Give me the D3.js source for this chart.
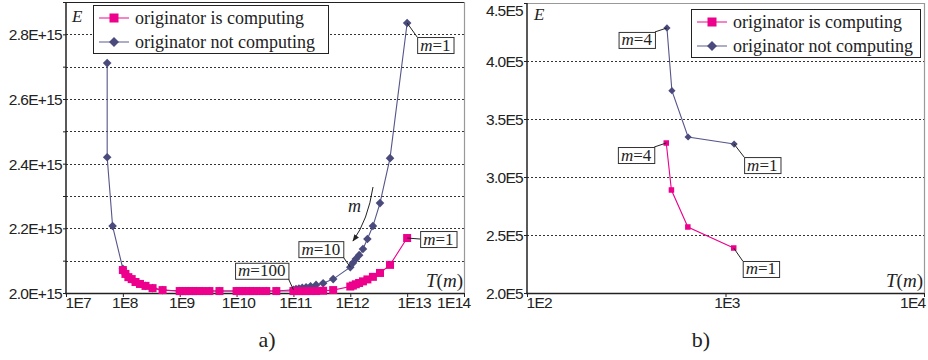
<!DOCTYPE html>
<html><head><meta charset="utf-8">
<script src="https://cdn.jsdelivr.net/npm/d3@7"></script>
<style>
body{margin:0;background:#fff}
svg{display:block}
.ax text{font-family:"Liberation Sans",Arial,sans-serif;font-size:15.5px;letter-spacing:-0.7px;fill:#222}
</style></head><body>
<svg id="c" width="928" height="360"></svg>
<script>
// ---------- data ----------
const seriesNames = ["originator is computing", "originator not computing"];
const panelLabels = ["a)", "b)"];

// panel a
const leftXTicks = [1e7, 1e8, 1e9, 1e10, 1e11, 1e12, 1e13, 1e14];
const leftXLabels = ["1E7", "1E8", "1E9", "1E10", "1E11", "1E12", "1E13", "1E14"];
const leftYTicks = [2.0e15, 2.1e15, 2.2e15, 2.3e15, 2.4e15, 2.5e15, 2.6e15, 2.7e15, 2.8e15, 2.9e15];
const leftYLabels = ["2.0E+15", "", "2.2E+15", "", "2.4E+15", "", "2.6E+15", "", "2.8E+15", ""];
const leftComputingT = [
  1e13, 5e12, 3.33e12, 2.5e12, 2e12, 1.67e12, 1.43e12, 1.25e12, 1.11e12,
  1e12, 5e11, 3.33e11, 2.5e11, 2e11, 1.67e11, 1.43e11, 1.25e11, 1.11e11,
  1e11, 5e10, 3.33e10, 2.5e10, 2e10, 1.67e10, 1.43e10, 1.25e10, 1.11e10,
  1e10, 5e9, 3.33e9, 2.5e9, 2e9, 1.67e9, 1.43e9, 1.25e9, 1.11e9,
  1e9, 5e8, 3.33e8, 2.5e8, 2e8, 1.67e8, 1.43e8, 1.25e8, 1.11e8,
  1e8];
const leftComputingE = [
  2.170e15, 2.087e15, 2.062e15, 2.050e15, 2.042e15, 2.036e15, 2.031e15, 2.027e15, 2.023e15,
  2.020e15, 2.009e15, 2.007e15, 2.006e15, 2.006e15, 2.006e15, 2.006e15, 2.006e15, 2.006e15,
  2.006e15, 2.006e15, 2.006e15, 2.006e15, 2.006e15, 2.006e15, 2.006e15, 2.006e15, 2.006e15,
  2.006e15, 2.006e15, 2.006e15, 2.006e15, 2.006e15, 2.006e15, 2.006e15, 2.006e15, 2.006e15,
  2.006e15, 2.009e15, 2.015e15, 2.022e15, 2.028e15, 2.034e15, 2.043e15, 2.049e15, 2.059e15,
  2.071e15];
const leftNotComputingT = [
  1e13, 5e12, 3.33e12, 2.5e12, 2e12, 1.67e12, 1.43e12, 1.25e12, 1.11e12,
  1e12, 5e11, 3.33e11, 2.5e11, 2e11, 1.67e11, 1.43e11, 1.25e11, 1.11e11,
  1e11, 5e10, 3.33e10, 2.5e10, 2e10, 1.67e10, 1.43e10, 1.25e10, 1.11e10,
  1e10, 5e9, 3.33e9, 2.5e9, 2e9, 1.67e9, 1.43e9, 1.25e9, 1.11e9,
  1e9, 5e8, 3.33e8, 2.5e8, 2e8, 1.67e8, 1.43e8, 1.25e8, 1.11e8,
  1e8, 6.6e7, 5.3e7, 5.3e7];
const leftNotComputingE = [
  2.835e15, 2.417e15, 2.278e15, 2.207e15, 2.167e15, 2.136e15, 2.117e15, 2.105e15, 2.093e15,
  2.080e15, 2.043e15, 2.030e15, 2.025e15, 2.021e15, 2.018e15, 2.016e15, 2.014e15, 2.012e15,
  2.010e15, 2.006e15, 2.006e15, 2.006e15, 2.006e15, 2.006e15, 2.006e15, 2.006e15, 2.006e15,
  2.006e15, 2.006e15, 2.006e15, 2.006e15, 2.006e15, 2.006e15, 2.006e15, 2.006e15, 2.006e15,
  2.006e15, 2.009e15, 2.015e15, 2.022e15, 2.028e15, 2.034e15, 2.043e15, 2.049e15, 2.059e15,
  2.075e15, 2.207e15, 2.420e15, 2.711e15];

// panel b
const rightXTicks = [1e2, 1e3, 1e4];
const rightXLabels = ["1E2", "1E3", "1E4"];
const rightYTicks = [2.0e5, 2.5e5, 3.0e5, 3.5e5, 4.0e5, 4.5e5];
const rightYLabels = ["2.0E5", "2.5E5", "3.0E5", "3.5E5", "4.0E5", "4.5E5"];
const rightComputingT = [1100, 646, 534, 503];
const rightComputingE = [2.388e5, 2.569e5, 2.888e5, 3.293e5];
const rightNotComputingT = [1105, 648, 537, 507];
const rightNotComputingE = [3.284e5, 3.345e5, 3.744e5, 4.285e5];
const mValues = [1, 2, 3, 4, 10, 100];

// ---------- drawing ----------
const PINK = "#ec008c", DARK = "#4a4a7c", DARKLINE = "#55558a";
const SERIF = '"Liberation Serif","Times New Roman",serif';
const svg = d3.select("#c");

svg.append("defs").append("marker").attr("id", "ah").attr("viewBox", "0 0 10 10")
  .attr("refX", 9).attr("refY", 5).attr("markerWidth", 7).attr("markerHeight", 7)
  .attr("orient", "auto-start-reverse")
  .append("path").attr("d", "M0,1 L10,5 L0,9 z").attr("fill", "#222");

function diamondPath(r) { return `M0,${-r}L${r},0L0,${r}L${-r},0Z`; }

function panel(o) {
  const g = svg.append("g");
  const x = d3.scaleLog().domain(o.xDomain).range(o.xRange);
  const y = d3.scaleLinear().domain(o.yDomain).range(o.yRange);
  const [x0, x1] = o.xRange, [yb, yt] = o.yRange;

  // gridlines
  g.selectAll(".grid").data(o.grid).join("line")
    .attr("x1", x0).attr("x2", x1)
    .attr("y1", d => Math.round(y(d)) + 0.5).attr("y2", d => Math.round(y(d)) + 0.5)
    .attr("stroke", "#333").attr("stroke-width", 1).attr("stroke-dasharray", "2,2");

  // frame (top / right)
  g.append("line").attr("x1", x0).attr("x2", x1).attr("y1", yt + 0.5).attr("y2", yt + 0.5)
    .attr("stroke", o.topColor).attr("stroke-width", 1.2);
  g.append("line").attr("x1", x1 + 0.5).attr("x2", x1 + 0.5).attr("y1", yt).attr("y2", yb)
    .attr("stroke", "#999").attr("stroke-width", 1.2);

  // axes
  const ya = g.append("g").attr("class", "ax").attr("transform", `translate(${x0},0)`)
    .call(d3.axisLeft(y).tickValues(o.yTicks).tickFormat((d, i) => o.yLabels[i]).tickSize(3).tickPadding(1));
  ya.select(".domain").remove();
  ya.selectAll("line").attr("stroke", "#222");
  ya.selectAll("text").attr("dy", "0.36em").each(function (d) {
    // keep a label at the very top inside the picture
    const yy = y(d);
    if (yy < 10) d3.select(this).attr("y", 10 - yy);
  });
  g.append("line").attr("x1", x0).attr("x2", x0).attr("y1", yt).attr("y2", yb + 1)
    .attr("stroke", "#222").attr("stroke-width", 1.5);

  const xa = g.append("g").attr("class", "ax").attr("transform", `translate(0,${yb})`)
    .call(d3.axisBottom(x).tickValues(o.xTicks).tickFormat((d, i) => o.xLabels[i]).tickSize(4).tickPadding(0));
  xa.select(".domain").remove();
  xa.selectAll("line").attr("stroke", "#222");
  const n = o.xTicks.length;
  xa.selectAll("text").each(function (d, i) {
    const t = d3.select(this);
    if (i === 0) t.attr("text-anchor", "start").attr("x", -1);
    else if (i === n - 1) t.attr("text-anchor", "end").attr("x", o.lastDx);
    else if (i === n - 2) t.attr("x", o.prevLastDx);
    else t.attr("x", 1.5);
  });
  g.append("line").attr("x1", x0 - 1).attr("x2", x1).attr("y1", yb + 0.5).attr("y2", yb + 0.5)
    .attr("stroke", "#222").attr("stroke-width", 1.5);

  // series: not computing (drawn first), computing on top
  const line = d3.line().x(d => x(d[0])).y(d => y(d[1]));
  const dark = o.darkT.map((t, i) => [t, o.darkE[i]]);
  const pink = o.pinkT.map((t, i) => [t, o.pinkE[i]]);
  g.append("path").attr("d", line(dark)).attr("fill", "none").attr("stroke", DARKLINE).attr("stroke-width", 1.1);
  g.selectAll(".dm").data(dark).join("path")
    .attr("transform", d => `translate(${x(d[0])},${y(d[1])})`)
    .attr("d", diamondPath(o.dr)).attr("fill", DARK);
  g.append("path").attr("d", line(pink)).attr("fill", "none").attr("stroke", PINK).attr("stroke-width", 1.1);
  g.selectAll(".pm").data(pink).join("rect")
    .attr("x", d => x(d[0]) - o.ps / 2).attr("y", d => y(d[1]) - o.ps / 2)
    .attr("width", o.ps).attr("height", o.ps).attr("fill", PINK);

  // E / T(m) labels
  g.append("text").attr("x", x0 + o.eDx).attr("y", o.eY).attr("font-family", SERIF)
    .attr("font-size", 17).attr("font-style", "italic").attr("fill", "#222").text("E");
  const tm = g.append("text").attr("x", x1 - 1).attr("y", yb - 6).attr("text-anchor", "end")
    .attr("font-family", SERIF).attr("font-size", 19).attr("fill", "#222");
  tm.append("tspan").attr("font-style", "italic").text("T");
  tm.append("tspan").text("(");
  tm.append("tspan").attr("font-style", "italic").text("m");
  tm.append("tspan").text(")");

  // legend
  const L = o.legend;
  const lg = g.append("g").attr("transform", `translate(${L.x},${L.y})`);
  lg.append("rect").attr("x", 0.5).attr("y", 0.5).attr("width", L.w).attr("height", 48)
    .attr("fill", "#fff").attr("stroke", "#222").attr("stroke-width", 1);
  [0, 1].forEach(i => {
    const cy = 13 + i * 24;
    lg.append("line").attr("x1", 6).attr("x2", 36).attr("y1", cy).attr("y2", cy)
      .attr("stroke", i === 0 ? PINK : DARKLINE).attr("stroke-width", 1.2).attr("opacity", 0.8);
    if (i === 0) lg.append("rect").attr("x", 21 - 4.5).attr("y", cy - 4.5).attr("width", 9).attr("height", 9).attr("fill", PINK);
    else lg.append("path").attr("transform", `translate(21,${cy})`).attr("d", diamondPath(5)).attr("fill", DARK);
    lg.append("text").attr("x", 42).attr("y", cy + 5.5).attr("font-family", SERIF).attr("font-size", 18)
      .attr("fill", "#222").text(seriesNames[i]);
  });

  // panel label
  svg.append("text").attr("x", o.panelX).attr("y", 347).attr("text-anchor", "middle")
    .attr("font-family", SERIF).attr("font-size", 22).attr("fill", "#222").text(o.panelLabel);

  return { g, x, y };
}

function annotate(g, px, py, m, side, bx, by, leader) {
  const a = g.append("g");
  const ln = a.append("line").attr("x1", px).attr("y1", py).attr("stroke", "#222").attr("stroke-width", 1);
  const r = a.append("rect").attr("fill", "#fff").attr("stroke", "#333").attr("stroke-width", 1);
  const t = a.append("text").attr("font-family", SERIF).attr("font-size", 17).attr("fill", "#222");
  t.append("tspan").attr("font-style", "italic").text("m");
  t.append("tspan").text("=" + m);
  const w = t.node().getComputedTextLength() + 6, h = 16;
  const left = side === "left" ? bx : bx - w;
  r.attr("x", left + 0.5).attr("y", by + 0.5).attr("width", w).attr("height", h);
  t.attr("x", left + 3).attr("y", by + 13.5);
  const pts = { tl: [left, by], tr: [left + w, by], br: [left + w, by + h], bl: [left, by + h], lm: [left, by + 8] };
  ln.attr("x2", pts[leader][0]).attr("y2", pts[leader][1]);
}

// panel a
const A = panel({
  xDomain: [1e7, 1e14], xRange: [66, 464], yDomain: [2.0e15, 2.9e15], yRange: [293, 2],
  grid: leftYTicks.slice(1), yTicks: leftYTicks, yLabels: leftYLabels,
  xTicks: leftXTicks, xLabels: leftXLabels, lastDx: 6, prevLastDx: 6.5,
  topColor: "#222",
  darkT: leftNotComputingT, darkE: leftNotComputingE, pinkT: leftComputingT, pinkE: leftComputingE,
  dr: 4.3, ps: 8, eDx: 6, eY: 22,
  legend: { x: 93, y: 5, w: 235 }, panelX: 267, panelLabel: panelLabels[0]
});
{
  const { g, x, y } = A;
  let px = x(leftNotComputingT[0]), py = y(leftNotComputingE[0]);
  annotate(g, px, py, mValues[0], "left", px + 10, py + 14, "tl");
  px = x(leftComputingT[0]); py = y(leftComputingE[0]);
  annotate(g, px, py, mValues[0], "left", px + 13, py - 7, "lm");
  px = x(leftNotComputingT[9]); py = y(leftNotComputingE[9]);
  annotate(g, px, py, mValues[4], "right", px - 7, py - 26, "br");
  px = x(leftNotComputingT[18]); py = y(leftNotComputingE[18]);
  annotate(g, px, py, mValues[5], "right", px - 5, py - 27, "br");
  // m arrow
  g.append("path").attr("d", "M373,187 Q368,220 353,241").attr("fill", "none")
    .attr("stroke", "#222").attr("stroke-width", 1).attr("marker-end", "url(#ah)");
  g.append("text").attr("x", 348).attr("y", 212).attr("font-family", SERIF).attr("font-size", 18)
    .attr("font-style", "italic").attr("fill", "#222").text("m");
}

// panel b
const B = panel({
  xDomain: [1e2, 1e4], xRange: [527, 924], yDomain: [2.0e5, 4.5e5], yRange: [293, 3],
  grid: rightYTicks.slice(1, -1), yTicks: rightYTicks, yLabels: rightYLabels,
  xTicks: rightXTicks, xLabels: rightXLabels, lastDx: 1, prevLastDx: 1,
  topColor: "#999",
  darkT: rightNotComputingT, darkE: rightNotComputingE, pinkT: rightComputingT, pinkE: rightComputingE,
  dr: 3.6, ps: 5.5, eDx: 7, eY: 20,
  legend: { x: 691, y: 9, w: 229 }, panelX: 701, panelLabel: panelLabels[1]
});
{
  const { g, x, y } = B;
  let px = x(rightNotComputingT[3]), py = y(rightNotComputingE[3]);
  annotate(g, px, py, mValues[3], "right", px - 12, py + 4, "tr");
  px = x(rightComputingT[3]); py = y(rightComputingE[3]);
  annotate(g, px, py, mValues[3], "right", px - 12, py + 4, "tr");
  px = x(rightNotComputingT[0]); py = y(rightNotComputingE[0]);
  annotate(g, px, py, mValues[0], "left", px + 10, py + 13, "tl");
  px = x(rightComputingT[0]); py = y(rightComputingE[0]);
  annotate(g, px, py, mValues[0], "left", px + 9, py + 13, "tl");
}
</script>
</body></html>
